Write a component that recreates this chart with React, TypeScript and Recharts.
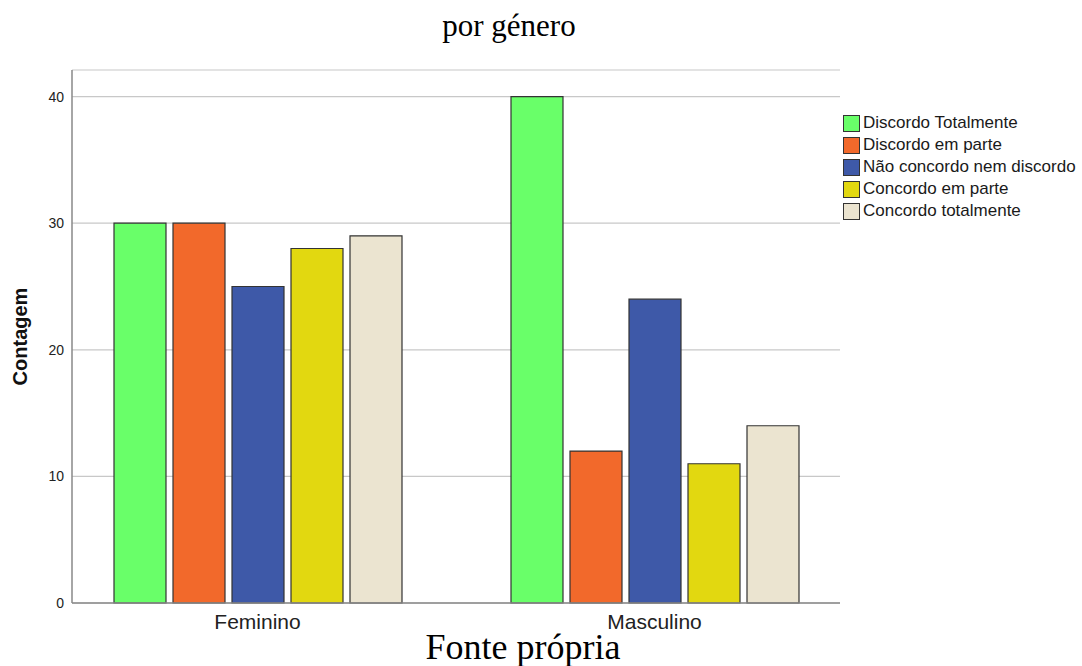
import React from 'react';
import { BarChart, Bar, XAxis, YAxis, CartesianGrid } from 'recharts';

const generos = ['Feminino', 'Masculino'];
const discordoTotalmente = [30, 40];
const discordoEmParte = [30, 12];
const naoConcordoNemDiscordo = [25, 24];
const concordoEmParte = [28, 11];
const concordoTotalmente = [29, 14];
const yTicks = [0, 10, 20, 30, 40];

const SERIES = [
  { key: 'dt', name: 'Discordo Totalmente', color: '#69ff69', values: discordoTotalmente },
  { key: 'dp', name: 'Discordo em parte', color: '#f2692b', values: discordoEmParte },
  { key: 'nc', name: 'Não concordo nem discordo', color: '#3e59a8', values: naoConcordoNemDiscordo },
  { key: 'cp', name: 'Concordo em parte', color: '#e2d810', values: concordoEmParte },
  { key: 'ct', name: 'Concordo totalmente', color: '#ebe4d0', values: concordoTotalmente },
];

const chartData = generos.map((g, i) => {
  const row: { [key: string]: string | number } = { genero: g };
  SERIES.forEach(s => { row[s.key] = s.values[i]; });
  return row;
});

const sansFont = '"Liberation Sans", Arial, sans-serif';
const serifFont = '"Liberation Serif", "Times New Roman", serif';

// legend drawn outside the chart so it doesn't eat plot width
const LegendBox = () => (
  <div style={{ position: 'absolute', left: 843, top: 112, fontFamily: sansFont, fontSize: 17, color: '#1a1a1a', lineHeight: '22px' }}>
    {SERIES.map(s => (
      <div key={s.key} style={{ display: 'flex', alignItems: 'center', height: 22, whiteSpace: 'nowrap' }}>
        <span style={{ display: 'inline-block', width: 17, height: 17, background: s.color, border: '1px solid #333', boxSizing: 'border-box', marginRight: 3 }} />
        <span>{s.name}</span>
      </div>
    ))}
  </div>
);

const App: React.FC = () => {
  return (
    <div style={{ position: 'absolute', left: 0, top: 0, width: 1082, height: 666, background: '#fff', overflow: 'hidden' }}>
      <div style={{ position: 'absolute', top: 8, left: 0, width: 1018, textAlign: 'center', fontFamily: serifFont, fontSize: 31, lineHeight: 1.15, color: '#000' }}>
        por género
      </div>
      <BarChart
        width={1082}
        height={666}
        data={chartData}
        margin={{ top: 70, right: 242, bottom: 33, left: 12 }}
        barSize={52}
        barGap={7}
      >
        <CartesianGrid vertical={false} stroke="#c8c8c8" strokeWidth={1.2} />
        <XAxis
          dataKey="genero"
          padding={{ left: -13, right: -13 }}
          axisLine={{ stroke: '#888', strokeWidth: 1.5 }}
          tickLine={false}
          tick={{ fill: '#222', fontSize: 21, fontFamily: sansFont, dy: 3 }}
          height={30}
        />
        <YAxis
          domain={[0, 42.1]}
          ticks={yTicks}
          width={60}
          axisLine={{ stroke: '#888', strokeWidth: 1.5 }}
          tickLine={false}
          tick={{ fill: '#222', fontSize: 14, fontFamily: sansFont }}
          label={{ value: 'Contagem', angle: -90, position: 'insideLeft', offset: 8, style: { fontFamily: sansFont, fontSize: 20, fontWeight: 'bold', fill: '#111', textAnchor: 'middle' } }}
        />
        {SERIES.map(s => (
          <Bar key={s.key} dataKey={s.key} name={s.name} fill={s.color} stroke="#333" strokeWidth={1.2} isAnimationActive={false} />
        ))}
      </BarChart>
      <LegendBox />
      <div style={{ position: 'absolute', top: 629, left: 0, width: 1046, textAlign: 'center', fontFamily: serifFont, fontSize: 36, lineHeight: 1, color: '#000' }}>
        Fonte própria
      </div>
    </div>
  );
};

export default App;
